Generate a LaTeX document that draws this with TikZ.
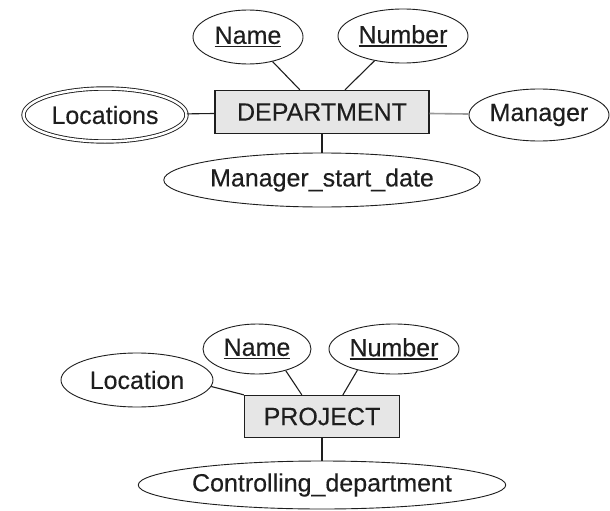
\documentclass[tikz,border=0pt]{standalone}
\usepackage{fontspec}
\setmainfont[FakeBold=0.25]{Liberation Sans}
\usetikzlibrary{shapes.geometric}
\definecolor{ink}{HTML}{1E1E1E}
\definecolor{boxfill}{HTML}{E6E6E6}
\definecolor{softline}{HTML}{9A9A9A}
\newcommand\ulword[1]{\setbox0=\hbox{#1}\rlap{\rule[-3.5pt]{\wd0}{1.4pt}}\box0}
\begin{document}
\begin{tikzpicture}[x=1pt,y=-1pt,
  lbl/.style={text=ink, font=\fontsize{25}{30}\selectfont},
  attr/.style={lbl, ellipse, draw=ink, line width=0.9pt, inner sep=0pt},
  multi/.style={attr, double=white, double distance=2.5pt},
  ent/.style={lbl, rectangle, draw=ink, line width=1.3pt, fill=boxfill, inner sep=0pt},
  link/.style={draw=ink, line width=1.1pt},
  softlink/.style={draw=softline, line width=1.6pt}]
\path[use as bounding box, fill=white] (0,0) rectangle (610,511);
% DEPARTMENT
\node[ent, minimum width=214pt, minimum height=43pt] (dept) at (322,112) {DEPARTMENT};
\node[attr, minimum width=110pt, minimum height=54pt] (dname) at (248,37) {\ulword{Name}};
\node[attr, minimum width=130pt, minimum height=54pt] (dnum) at (403,36) {\ulword{Number}};
\node[multi, minimum width=163pt, minimum height=53pt] (dloc) at (105,115) {Locations};
\node[attr, minimum width=140pt, minimum height=52pt] (dman) at (539,115) {Manager};
\node[attr, minimum width=286pt, minimum height=54pt] (dmsd) at (322,180) {Manager\_start\_date};
\draw[link] (dname.-45) -- (dept.135);
\draw[link] (dnum.-139) -- (dept.44);
\draw[link] (dloc) -- (dept);
\draw[softlink] (dept) -- (dman);
\draw[link] (dept.south) -- (dmsd.north);
% PROJECT
\node[ent, minimum width=155pt, minimum height=42pt] (proj) at (322,416.5) {PROJECT};
\node[attr, minimum width=108pt, minimum height=50pt] (pname) at (257,349) {\ulword{Name}};
\node[attr, minimum width=130pt, minimum height=50pt] (pnum) at (394,349) {\ulword{Number}};
\node[attr, minimum width=152pt, minimum height=54pt] (ploc) at (137,380) {Location};
\node[attr, minimum width=328pt, minimum height=48pt] (pcd) at (322,485) {Controlling\_department};
\draw[link] (pname.-37) -- (proj.133);
\draw[link] (pnum.-150) -- (proj.46);
\draw[link] (ploc.-5) -- (proj.north west);
\draw[link] (proj.south) -- (pcd.north);
\end{tikzpicture}
\end{document}
